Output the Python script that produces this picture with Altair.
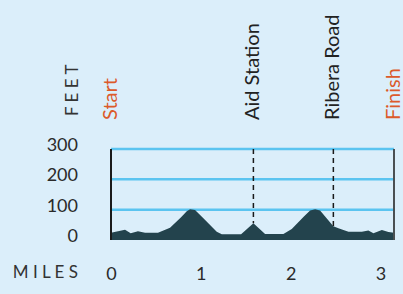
import altair as alt
import pandas as pd

# Elevation profile (miles, feet)
miles = [0.00, 0.156, 0.219, 0.30, 0.379, 0.523, 0.657, 0.78, 0.843, 0.88, 0.935, 1.02, 1.177, 1.233,
         1.448, 1.585, 1.715, 1.919, 2.012, 2.15, 2.216, 2.272, 2.327, 2.40, 2.475, 2.531, 2.643,
         2.792, 2.865, 2.921, 3.015, 3.088, 3.15]
feet = [24, 34, 22, 29, 24, 24, 40, 75, 95, 101, 99, 74, 27, 19,
        19, 55, 20, 20, 36, 78, 97, 101, 97, 72, 45, 39, 27,
        27, 31, 22, 33, 26, 24]

# Course markers
marker_names = ["Start", "Aid Station", "Ribera Road", "Finish"]
marker_miles = [0.0, 1.585, 2.475, 3.15]
marker_kind = ["end", "mid", "mid", "end"]
marker_feet = [24, 55, 45, 24]

grid_feet = [100, 200, 300]
mile_ticks = [0, 1, 2, 3]
feet_ticks = [0, 100, 200, 300]
course_start, course_end = 0.0, 3.15
y_top, y_bottom = 300, 0

FONT = "Lato"
BG = "#dbeefa"

profile = pd.DataFrame({"miles": miles, "feet": feet})
markers = pd.DataFrame({"name": marker_names, "miles": marker_miles,
                        "kind": marker_kind, "feet": marker_feet,
                        "top": y_top, "bottom": y_bottom})
grid = pd.DataFrame({"feet": grid_feet, "x0": course_start, "x1": course_end})
yticks = pd.DataFrame({"feet": feet_ticks, "label": [str(v) for v in feet_ticks]})

xs = alt.Scale(domain=[course_start, course_end], nice=False, zero=False)
ys = alt.Scale(domain=[y_bottom, y_top], nice=False)

gridlines = alt.Chart(grid).mark_rule(color="#5bc4f0", strokeWidth=2.5).encode(
    y=alt.Y("feet:Q", scale=ys, axis=None),
    x=alt.X("x0:Q", scale=xs,
            axis=alt.Axis(values=mile_ticks, title=None, labelPadding=34, labelBaseline="middle",
                          labelFlush=False, format="d")),
    x2="x1:Q",
)

ylabels = alt.Chart(yticks).mark_text(align="right", baseline="middle", dy=-3,
                                      fontSize=18, font=FONT, color="#2a2a2a").encode(
    y=alt.Y("feet:Q", axis=None),
    x=alt.value(-33),
    text="label:N",
)

area = alt.Chart(profile).mark_area(color="#23434d", interpolate="linear").encode(
    x=alt.X("miles:Q"),
    y=alt.Y("feet:Q", axis=None),
)

ends = alt.Chart(markers).transform_filter("datum.kind == 'end'").mark_rule(strokeWidth=2).encode(
    x=alt.X("miles:Q"),
    y=alt.Y("bottom:Q", axis=None), y2="top:Q",
    stroke=alt.Stroke("name:N", scale=alt.Scale(domain=["Start", "Finish"], range=["#1a1a1a", "#4a4f52"]),
                      legend=None),
)

dashes = alt.Chart(markers).transform_filter("datum.kind == 'mid'").mark_rule(
    strokeWidth=1.5, strokeDash=[5, 4], color="#1a1a1a").encode(
    x=alt.X("miles:Q"),
    y=alt.Y("top:Q", axis=None), y2="feet:Q",
)

labels = alt.Chart(markers).mark_text(angle=270, align="left", baseline="middle",
                                      fontSize=20, font=FONT).encode(
    x=alt.X("miles:Q"),
    y=alt.value(-29),
    text="name:N",
    color=alt.Color("kind:N", scale=alt.Scale(domain=["end", "mid"], range=["#dc5a2a", "#222222"]),
                    legend=None),
)

feet_title = alt.Chart(pd.DataFrame({"t": ["F E E T"]})).mark_text(
    angle=270, align="left", baseline="middle", fontSize=17, font=FONT, color="#333333").encode(
    x=alt.value(-38), y=alt.value(-33), text="t:N")

miles_title = alt.Chart(pd.DataFrame({"t": ["M I L E S"]})).mark_text(
    align="right", baseline="middle", fontSize=17, font=FONT, color="#333333").encode(
    x=alt.value(-33), y=alt.value(124), text="t:N")

chart = alt.layer(gridlines, ylabels, area, ends, dashes, labels, feet_title, miles_title).properties(
    width=283, height=91,
    autosize=alt.AutoSizeParams(type="none"),
    padding={"left": 103, "top": 141, "right": 8, "bottom": 52},
    background=BG,
).configure_view(stroke=None).configure_axis(
    labelOverlap=False, labelFontSize=18, labelFont=FONT, labelColor="#2a2a2a",
    domain=False, ticks=False, grid=False,
)

chart.save("out.html", embed_options={
    "renderer": "svg", "actions": False,
    "defaultStyle": "html,body{background:#dbeefa;overflow:hidden;} body{margin:8px 0 0 8px;} .vega-embed svg{display:block;}"})
